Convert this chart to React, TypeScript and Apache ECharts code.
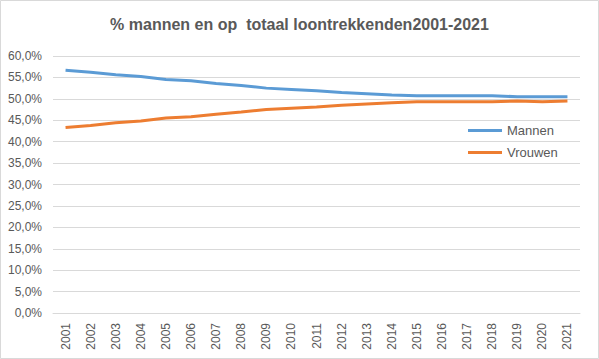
import React, { useEffect, useRef } from "react";
import * as echarts from "echarts";

const years = ["2001","2002","2003","2004","2005","2006","2007","2008","2009","2010","2011","2012","2013","2014","2015","2016","2017","2018","2019","2020","2021"];
const mannen = [56.7, 56.2, 55.6, 55.2, 54.5, 54.2, 53.6, 53.1, 52.5, 52.2, 51.9, 51.5, 51.2, 50.9, 50.7, 50.7, 50.7, 50.7, 50.5, 50.5, 50.5];
const vrouwen = [43.3, 43.8, 44.4, 44.8, 45.5, 45.8, 46.4, 46.9, 47.5, 47.8, 48.1, 48.5, 48.8, 49.1, 49.3, 49.3, 49.3, 49.3, 49.5, 49.3, 49.5];
const titleText = "% mannen en op  totaal loontrekkenden2001-2021";

const FONT = "Liberation Sans, Arial, sans-serif";
const GRAY = "#595959";

export default function App() {
  const ref = useRef<HTMLDivElement>(null);
  useEffect(() => {
    if (!ref.current) return;
    const chart = echarts.init(ref.current, undefined, { renderer: "svg" });
    chart.setOption({
      animation: false,
      backgroundColor: "#ffffff",
      title: {
        text: titleText,
        left: "center",
        top: 11,
        textStyle: { fontFamily: FONT, fontSize: 16, fontWeight: "bold", color: GRAY },
      },
      graphic: [
        {
          type: "rect",
          shape: { x: 0.5, y: 0.5, width: 598, height: 358 },
          style: { fill: "none", stroke: "#d9d9d9", lineWidth: 1 },
          silent: true,
        },
      ],
      legend: {
        orient: "vertical",
        left: 463,
        top: 119,
        itemWidth: 34,
        itemHeight: 3,
        itemGap: 9,
        icon: "rect",
        textStyle: { fontFamily: FONT, fontSize: 13, color: GRAY },
        data: ["Mannen", "Vrouwen"],
      },
      grid: { left: 53, right: 19, top: 56, bottom: 46 },
      xAxis: {
        type: "category",
        data: years,
        boundaryGap: true,
        axisLine: { show: true, lineStyle: { color: "#d9d9d9", width: 1 } },
        axisTick: { show: false },
        axisLabel: {
          rotate: 90,
          margin: 10,
          fontFamily: FONT,
          fontSize: 12,
          color: GRAY,
          interval: 0,
        },
      },
      yAxis: {
        type: "value",
        min: 0,
        max: 60,
        interval: 5,
        axisLine: { show: false },
        axisTick: { show: false },
        splitLine: { lineStyle: { color: "#d9d9d9", width: 1 } },
        axisLabel: {
          margin: 11,
          fontFamily: FONT,
          fontSize: 12,
          color: GRAY,
          formatter: (v: number) => v.toFixed(1).replace(".", ",") + "%",
        },
      },
      series: [
        {
          name: "Mannen",
          type: "line",
          data: mannen,
          showSymbol: false,
          symbol: "none",
          lineStyle: { color: "#5B9BD5", width: 3 },
          itemStyle: { color: "#5B9BD5" },
        },
        {
          name: "Vrouwen",
          type: "line",
          data: vrouwen,
          showSymbol: false,
          symbol: "none",
          lineStyle: { color: "#ED7D31", width: 3 },
          itemStyle: { color: "#ED7D31" },
        },
      ],
    });
    return () => chart.dispose();
  }, []);
  return (
    <div
      ref={ref}
      style={{ position: "fixed", left: 0, top: 0, width: 599, height: 359 }}
    />
  );
}
